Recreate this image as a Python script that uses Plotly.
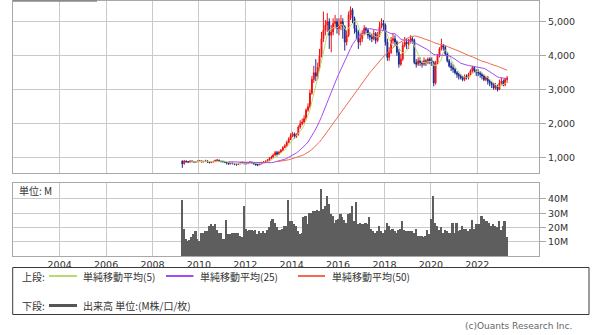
import plotly.graph_objects as go
import pandas as pd

start_month = "2009-04"
first_open = 900

closes = [
    820, 900, 880, 870, 900, 890, 870, 880, 900,
    900, 880, 890, 910, 880, 860, 870, 890, 920, 930, 900, 890,
    880, 870, 850, 820, 840, 830, 810, 800, 820, 840, 860, 840,
    830, 850, 870, 850, 820, 800, 790, 820, 850, 870, 890, 920,
    980, 1020, 1080, 1150, 1100, 1160, 1220, 1300, 1350, 1450, 1550, 1650,
    1700, 1620, 1680, 1900, 2000, 2050, 2150, 2400, 2500, 2900, 3300, 3500,
    3400, 3650, 4000, 4500, 4750, 4900, 5000, 4600, 4700, 4950, 5000, 4800,
    4900, 5000, 4850, 4400, 4600, 5200, 5350, 5100, 4800, 4700, 4400, 4500,
    4650, 4800, 4750, 4600, 4550, 4500, 4650, 4450, 4600, 4850, 4950, 4900,
    4400, 3950, 4100, 4450, 4500, 4400, 4100, 3750, 3900, 4300, 4400, 4350,
    4400, 4500, 4450, 3800, 3750, 3850, 3800, 3750, 3850, 3800, 3900, 3850,
    3800, 3200, 3800, 4000, 4200, 4300, 4250, 4050, 3850, 3700, 3650, 3600,
    3500, 3450, 3400, 3350, 3300, 3400, 3350, 3450, 3550, 3650, 3550, 3500,
    3500, 3450, 3400, 3300, 3350, 3250, 3200, 3150, 3050, 3100, 3000, 3200,
    3250, 3150, 3300, 3350,
]
highs = [
    920, 930, 920, 900, 920, 920, 900, 900, 920,
    930, 920, 910, 940, 920, 890, 890, 910, 940, 960, 940, 910,
    910, 900, 880, 860, 860, 860, 840, 830, 850, 870, 890, 870,
    860, 880, 900, 880, 860, 830, 820, 850, 880, 900, 920, 960,
    1020, 1060, 1120, 1200, 1200, 1200, 1260, 1340, 1400, 1500, 1600, 1720,
    1760, 1740, 1720, 1950, 2100, 2150, 2250, 2450, 2600, 3000, 3400, 3700,
    3900, 3800, 4200, 4700, 5300, 5050, 5250, 5100, 4900, 5100, 5200, 5100,
    5100, 5200, 5100, 4900, 4750, 5300, 5450, 5400, 5150, 4900, 4750, 4650,
    4750, 4900, 4850, 4800, 4700, 4650, 4750, 4700, 4700, 5000, 5100, 5050,
    4950, 4500, 4250, 4550, 4650, 4600, 4450, 4200, 4050, 4400, 4550, 4500,
    4500, 4600, 4550, 4500, 3900, 3950, 3950, 3850, 3950, 3900, 3950, 3950,
    3950, 3850, 3850, 4050, 4250, 4500, 4350, 4300, 4100, 3900, 3800, 3750,
    3650, 3550, 3500, 3450, 3400, 3450, 3450, 3500, 3600, 3700, 3700, 3600,
    3600, 3550, 3500, 3450, 3400, 3400, 3300, 3250, 3200, 3200, 3150, 3300,
    3350, 3300, 3350, 3400,
]
lows = [
    700, 800, 860, 850, 860, 870, 850, 860, 870,
    870, 860, 860, 880, 850, 830, 840, 860, 880, 900, 880, 860,
    860, 840, 800, 790, 810, 800, 780, 760, 790, 810, 830, 800,
    800, 810, 840, 820, 790, 760, 750, 780, 810, 840, 860, 880,
    900, 960, 1000, 1060, 1040, 1080, 1140, 1200, 1280, 1330, 1420, 1520,
    1600, 1560, 1580, 1650, 1850, 1950, 2000, 2100, 2350, 2450, 2850, 3200,
    3250, 3300, 3550, 3950, 4400, 4600, 4700, 4200, 4100, 4600, 4800, 4650,
    4600, 4750, 4500, 4150, 4300, 4550, 5050, 4950, 4650, 4500, 4200, 4300,
    4400, 4600, 4650, 4500, 4450, 4400, 4450, 4350, 4400, 4550, 4800, 4750,
    4300, 3850, 3850, 4050, 4350, 4300, 4000, 3650, 3700, 3850, 4250, 4200,
    4200, 4350, 4350, 3750, 3650, 3700, 3700, 3650, 3700, 3700, 3750, 3750,
    3700, 3100, 3150, 3750, 3950, 4150, 4150, 4000, 3800, 3650, 3550, 3500,
    3450, 3350, 3300, 3300, 3250, 3250, 3300, 3300, 3400, 3500, 3500, 3400,
    3400, 3350, 3300, 3250, 3250, 3150, 3100, 3050, 3000, 3000, 2950, 3000,
    3150, 3100, 3100, 3200,
]
volumes_m = [
    39, 19, 12, 10, 11, 13, 15, 17, 12,
    10, 16, 16, 17, 17, 21, 22, 21, 22, 18, 16, 16,
    12, 12, 25, 15, 15, 16, 16, 16, 16, 14, 13, 35,
    19, 17, 18, 18, 17, 18, 15, 17, 16, 17, 16, 18,
    20, 24, 26, 23, 20, 18, 18, 19, 21, 21, 39, 24,
    24, 22, 21, 17, 15, 16, 27, 28, 22, 30, 30, 31,
    31, 32, 31, 47, 33, 35, 42, 36, 29, 28, 23, 25,
    26, 29, 27, 25, 23, 29, 30, 35, 24, 38, 22, 23,
    22, 22, 23, 22, 27, 19, 17, 16, 17, 21, 17, 16,
    18, 23, 21, 18, 19, 17, 16, 18, 19, 24, 18, 17,
    17, 17, 17, 16, 19, 14, 14, 14, 13, 14, 18, 15,
    26, 42, 23, 21, 18, 20, 16, 18, 17, 16, 16, 23,
    16, 23, 17, 18, 21, 19, 19, 17, 19, 25, 19, 22,
    22, 22, 28, 26, 24, 24, 23, 21, 22, 21, 20, 24,
    18, 21, 24, 13,
]

year_ticks = [str(y) for y in range(2004, 2023, 2)]
price_ticks = [1000, 2000, 3000, 4000, 5000]
vol_ticks = [10, 20, 30, 40]
ma_periods = [5, 25, 50]
ma_colors = ["#b9da70", "#a24cf5", "#f26a50"]
legend_labels = ["単純移動平均(5)", "単純移動平均(25)", "単純移動平均(50)"]

W, H = 600, 335


def px(x):
    return x / W


def py(y):
    return 1 - y / H


months = pd.period_range(start_month, periods=len(closes), freq="M")
dates = months.to_timestamp() + pd.Timedelta(days=14)
opens = [first_open] + closes[:-1]
cs = pd.Series(closes)

fig = go.Figure()
fig.add_trace(go.Bar(
    x=dates, y=volumes_m, marker_color="#5e5e5e", marker_line_width=0,
    xaxis="x2", yaxis="y2", showlegend=False,
))
fig.add_trace(go.Candlestick(
    x=dates, open=opens, high=highs, low=lows, close=closes,
    increasing=dict(line=dict(color="#f01010", width=1), fillcolor="#f01010"),
    decreasing=dict(line=dict(color="#1b2a90", width=1), fillcolor="#1b2a90"),
    whiskerwidth=0, showlegend=False, xaxis="x", yaxis="y",
))
for p, c in zip(ma_periods, ma_colors):
    fig.add_trace(go.Scatter(
        x=dates, y=cs.rolling(p).mean(), mode="lines",
        line=dict(color=c, width=1), showlegend=False, xaxis="x", yaxis="y",
    ))

grid = "#c9c9c9"
border = "#a8a8a8"
xrange = ["2002-01-01", "2024-08-29"]
xdom = [px(13.3), px(539)]
tick_dates = [f"{y}-01-01" for y in year_ticks]
tickfont = dict(family="DejaVu Sans", size=9.5, color="#333333")

common_x = dict(
    type="date", range=xrange, domain=xdom, tickvals=tick_dates,
    showgrid=True, gridcolor=grid, gridwidth=1, showline=True, mirror=True,
    linecolor=border, linewidth=1, zeroline=False, rangeslider=dict(visible=False),
)

fig.update_layout(
    width=W, height=H, margin=dict(l=0, r=0, t=0, b=0),
    paper_bgcolor="white", plot_bgcolor="white", showlegend=False, bargap=0,
    xaxis=dict(common_x, anchor="y", showticklabels=False),
    xaxis2=dict(common_x, anchor="y2", ticktext=year_ticks, showticklabels=True,
                tickfont=tickfont, ticks=""),
    yaxis=dict(domain=[py(173.3), py(0.5)], range=[541, 5624], side="right",
               tickvals=price_ticks, tickformat=",", ticks="outside", ticklen=6,
               tickcolor=border, showgrid=True, gridcolor=grid, showline=True,
               mirror=True, linecolor=border, zeroline=False, tickfont=tickfont,
               anchor="x"),
    yaxis2=dict(domain=[py(255.9), py(183.3)], range=[0, 51], side="right",
                tickvals=vol_ticks, ticktext=[f"{v}M" for v in vol_ticks],
                ticks="outside", ticklen=6, tickcolor=border, showgrid=True,
                gridcolor=grid, showline=True, mirror=True, linecolor=border,
                zeroline=False, tickfont=tickfont, anchor="x2"),
)

shapes = []
annotations = []
cjk = "Noto Sans CJK JP"
# legend box
shapes.append(dict(type="rect", xref="paper", yref="paper", x0=px(12.7), x1=px(589),
                   y0=py(314.5), y1=py(267.5), line=dict(color="#3a3a3a", width=1)))
# small dark tab at top-left
shapes.append(dict(type="line", xref="paper", yref="paper", x0=px(13), x1=px(97),
                   y0=py(0.8), y1=py(0.8), line=dict(color="#8a8a8a", width=2)))

row1, row2 = 276, 305.5
annotations.append(dict(text="上段:", x=px(20), y=py(row1), xref="paper", yref="paper",
                        xanchor="left", yanchor="middle", showarrow=False,
                        font=dict(family=cjk, size=10, color="#333333")))
annotations.append(dict(text="下段:", x=px(20), y=py(row2), xref="paper", yref="paper",
                        xanchor="left", yanchor="middle", showarrow=False,
                        font=dict(family=cjk, size=10, color="#333333")))
leg_x = [(49, 77, 81), (166, 193.5, 198), (298, 325, 329.5)]
for (x0, x1, xt), c, lab in zip(leg_x, ma_colors, legend_labels):
    shapes.append(dict(type="line", xref="paper", yref="paper", x0=px(x0), x1=px(x1),
                       y0=py(row1), y1=py(row1), line=dict(color=c, width=2)))
    annotations.append(dict(text=lab, x=px(xt), y=py(row1), xref="paper", yref="paper",
                            xanchor="left", yanchor="middle", showarrow=False,
                            font=dict(family=cjk, size=10, color="#333333")))
shapes.append(dict(type="line", xref="paper", yref="paper", x0=px(49), x1=px(77),
                   y0=py(row2), y1=py(row2), line=dict(color="#555555", width=3)))
annotations.append(dict(text="出来高 単位:(M株/口/枚)", x=px(81), y=py(row2), xref="paper",
                        yref="paper", xanchor="left", yanchor="middle", showarrow=False,
                        font=dict(family=cjk, size=10, color="#333333")))
annotations.append(dict(text="単位: M", x=px(16.5), y=py(190.5), xref="paper", yref="paper",
                        xanchor="left", yanchor="middle", showarrow=False,
                        font=dict(family=cjk, size=10, color="#333333")))
annotations.append(dict(text="(c)Ouants Research Inc.", x=px(574), y=py(326), xref="paper",
                        yref="paper", xanchor="right", yanchor="middle", showarrow=False,
                        font=dict(family="DejaVu Sans", size=9, color="#666666")))

fig.update_layout(shapes=shapes, annotations=annotations)
fig.write_html("out.html")
